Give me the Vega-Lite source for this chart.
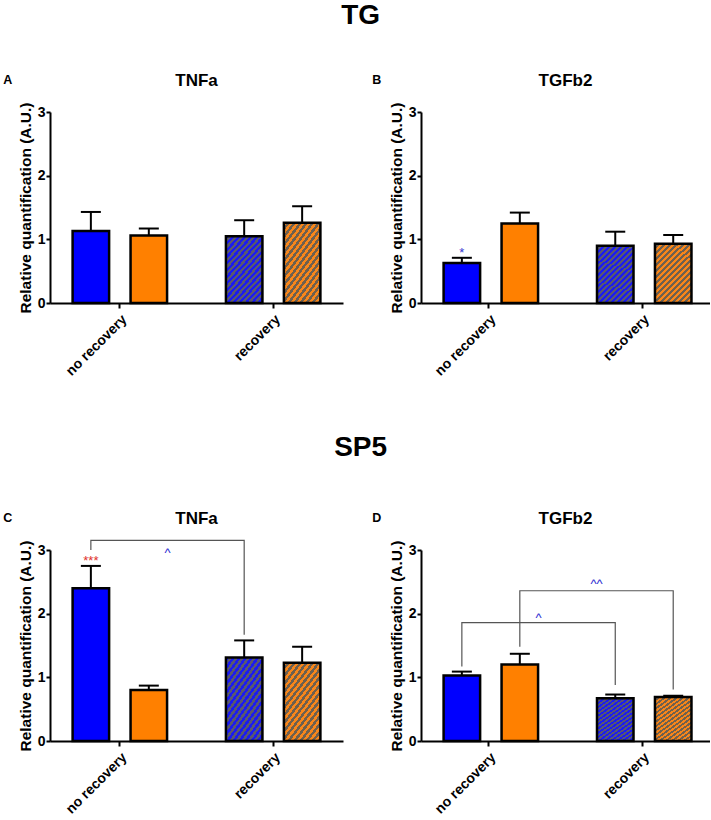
{
"$schema": "https://vega.github.io/schema/vega-lite/v6.json",
"padding": {"left": 3, "top": 2, "right": 0, "bottom": 0},
"background": "white",
"datasets": {
"bars": [
{"panel":"A","condition":"no recovery","series":"S1","value":1.13,"upper":1.43},
{"panel":"A","condition":"no recovery","series":"S2","value":1.06,"upper":1.17},
{"panel":"A","condition":"recovery","series":"S1","value":1.05,"upper":1.30},
{"panel":"A","condition":"recovery","series":"S2","value":1.26,"upper":1.52},
{"panel":"B","condition":"no recovery","series":"S1","value":0.63,"upper":0.71},
{"panel":"B","condition":"no recovery","series":"S2","value":1.25,"upper":1.42},
{"panel":"B","condition":"recovery","series":"S1","value":0.9,"upper":1.12},
{"panel":"B","condition":"recovery","series":"S2","value":0.93,"upper":1.07},
{"panel":"C","condition":"no recovery","series":"S1","value":2.4,"upper":2.75},
{"panel":"C","condition":"no recovery","series":"S2","value":0.8,"upper":0.87},
{"panel":"C","condition":"recovery","series":"S1","value":1.31,"upper":1.58},
{"panel":"C","condition":"recovery","series":"S2","value":1.23,"upper":1.48},
{"panel":"D","condition":"no recovery","series":"S1","value":1.03,"upper":1.09},
{"panel":"D","condition":"no recovery","series":"S2","value":1.2,"upper":1.37},
{"panel":"D","condition":"recovery","series":"S1","value":0.67,"upper":0.73},
{"panel":"D","condition":"recovery","series":"S2","value":0.69,"upper":0.71}
],
"panels": [
{"panel":"A","letter":"A","gene":"TNFa"},
{"panel":"B","letter":"B","gene":"TGFb2"},
{"panel":"C","letter":"C","gene":"TNFa"},
{"panel":"D","letter":"D","gene":"TGFb2"}
],
"stars": [
{"panel":"B","condition":"no recovery","series":"S1","label":"*","y":0.73},
{"panel":"C","condition":"no recovery","series":"S1","label":"***","y":2.76}
],
"carets": [
{"panel":"C","condition":"no recovery","series":"S1","label":"^","y":2.89},
{"panel":"D","condition":"no recovery","series":"S1","label":"^","y":1.87},
{"panel":"D","condition":"no recovery","series":"S2","label":"^^","y":2.40}
],
"brackets": [
{"panel":"C","id":"c1","seq":1,"condition":"no recovery","series":"S1","y":3.0},
{"panel":"C","id":"c1","seq":2,"condition":"no recovery","series":"S1","y":3.15},
{"panel":"C","id":"c1","seq":3,"condition":"recovery","series":"S1","y":3.15},
{"panel":"C","id":"c1","seq":4,"condition":"recovery","series":"S1","y":1.67},
{"panel":"D","id":"d1","seq":1,"condition":"no recovery","series":"S1","y":1.17},
{"panel":"D","id":"d1","seq":2,"condition":"no recovery","series":"S1","y":1.86},
{"panel":"D","id":"d1","seq":3,"condition":"recovery","series":"S1","y":1.86},
{"panel":"D","id":"d1","seq":4,"condition":"recovery","series":"S1","y":0.88},
{"panel":"D","id":"d2","seq":1,"condition":"no recovery","series":"S2","y":1.48},
{"panel":"D","id":"d2","seq":2,"condition":"no recovery","series":"S2","y":2.36},
{"panel":"D","id":"d2","seq":3,"condition":"recovery","series":"S2","y":2.36},
{"panel":"D","id":"d2","seq":4,"condition":"recovery","series":"S2","y":0.81}
]
},
"config": {
"view": {"stroke": null},
"font": "Liberation Sans",
"axis": {"grid": false, "domainColor": "black", "domainWidth": 2, "tickColor": "black", "tickWidth": 2, "labelColor": "black", "labelFont": "Liberation Sans", "labelFontWeight": "bold", "titleFont": "Liberation Sans", "titleFontWeight": "bold", "titleColor": "black"},
"axisX": {"labelAngle": -45, "labelFontSize": 14, "tickSize": 5, "labelPadding": 4},
"axisY": {"labelFontSize": 14, "tickSize": 4, "labelPadding": 1, "titleFontSize": 15.5, "titlePadding": 4},
"title": {"font": "Liberation Sans", "fontWeight": "bold", "color": "black"}
},
"spacing": 55,
"vconcat": [
{
"title": {"text": "TG", "fontSize": 28, "anchor": "middle", "offset": 42, "dx": 4},
"spacing": 29,
"hconcat": [
{
"width": 293, "height": 191,
"layer": [
{"data":{"name":"bars"},"transform":[{"filter":"datum.panel==='A' && datum.condition==='no recovery'"}],
"mark":{"type":"bar","stroke":"black","strokeWidth":2.5},
"encoding":{
"x":{"field":"condition","type":"nominal","title":null,"scale":{"domain":["no recovery","recovery"],"paddingInner":0.089,"paddingOuter":0}},
"xOffset":{"field":"series","type":"nominal","scale":{"domain":["S1","S2"],"paddingInner":0.37,"paddingOuter":0.39}},
"y":{"field":"value","type":"quantitative","title":"Relative quantification (A.U.)","scale":{"domain":[0,3],"nice":false},"axis":{"values":[0,1,2,3],"format":"d"}},
"fill":{"field":"series","type":"nominal","scale":{"domain":["S1","S2"],"range":["#0000ff","#ff8000"]},"legend":null}}},
{"data":{"name":"bars"},"transform":[{"filter":"datum.panel==='A' && datum.condition==='recovery' && datum.series==='S1'"}],
"mark":{"type":"bar","stroke":"black","strokeWidth":2.5,"fill":{"gradient":"linear","x1":0,"y1":0,"x2":0.706,"y2":1.176,"stops":[
{"offset":0,"color":"#1c1cf0"},{"offset":0.03125,"color":"#1c1cf0"},{"offset":0.03125,"color":"#585870"},{"offset":0.0625,"color":"#585870"},
{"offset":0.0625,"color":"#1c1cf0"},{"offset":0.09375,"color":"#1c1cf0"},{"offset":0.09375,"color":"#585870"},{"offset":0.125,"color":"#585870"},
{"offset":0.125,"color":"#1c1cf0"},{"offset":0.15625,"color":"#1c1cf0"},{"offset":0.15625,"color":"#585870"},{"offset":0.1875,"color":"#585870"},
{"offset":0.1875,"color":"#1c1cf0"},{"offset":0.21875,"color":"#1c1cf0"},{"offset":0.21875,"color":"#585870"},{"offset":0.25,"color":"#585870"},
{"offset":0.25,"color":"#1c1cf0"},{"offset":0.28125,"color":"#1c1cf0"},{"offset":0.28125,"color":"#585870"},{"offset":0.3125,"color":"#585870"},
{"offset":0.3125,"color":"#1c1cf0"},{"offset":0.34375,"color":"#1c1cf0"},{"offset":0.34375,"color":"#585870"},{"offset":0.375,"color":"#585870"},
{"offset":0.375,"color":"#1c1cf0"},{"offset":0.40625,"color":"#1c1cf0"},{"offset":0.40625,"color":"#585870"},{"offset":0.4375,"color":"#585870"},
{"offset":0.4375,"color":"#1c1cf0"},{"offset":0.46875,"color":"#1c1cf0"},{"offset":0.46875,"color":"#585870"},{"offset":0.5,"color":"#585870"},
{"offset":0.5,"color":"#1c1cf0"},{"offset":0.53125,"color":"#1c1cf0"},{"offset":0.53125,"color":"#585870"},{"offset":0.5625,"color":"#585870"},
{"offset":0.5625,"color":"#1c1cf0"},{"offset":0.59375,"color":"#1c1cf0"},{"offset":0.59375,"color":"#585870"},{"offset":0.625,"color":"#585870"},
{"offset":0.625,"color":"#1c1cf0"},{"offset":0.65625,"color":"#1c1cf0"},{"offset":0.65625,"color":"#585870"},{"offset":0.6875,"color":"#585870"},
{"offset":0.6875,"color":"#1c1cf0"},{"offset":0.71875,"color":"#1c1cf0"},{"offset":0.71875,"color":"#585870"},{"offset":0.75,"color":"#585870"},
{"offset":0.75,"color":"#1c1cf0"},{"offset":0.78125,"color":"#1c1cf0"},{"offset":0.78125,"color":"#585870"},{"offset":0.8125,"color":"#585870"},
{"offset":0.8125,"color":"#1c1cf0"},{"offset":0.84375,"color":"#1c1cf0"},{"offset":0.84375,"color":"#585870"},{"offset":0.875,"color":"#585870"},
{"offset":0.875,"color":"#1c1cf0"},{"offset":0.90625,"color":"#1c1cf0"},{"offset":0.90625,"color":"#585870"},{"offset":0.9375,"color":"#585870"},
{"offset":0.9375,"color":"#1c1cf0"},{"offset":0.96875,"color":"#1c1cf0"},{"offset":0.96875,"color":"#585870"},{"offset":1,"color":"#585870"}]}},
"encoding":{"x":{"field":"condition","type":"nominal","title":null},"xOffset":{"field":"series","type":"nominal"},"y":{"field":"value","type":"quantitative","title":"Relative quantification (A.U.)"}}},
{"data":{"name":"bars"},"transform":[{"filter":"datum.panel==='A' && datum.condition==='recovery' && datum.series==='S2'"}],
"mark":{"type":"bar","stroke":"black","strokeWidth":2.5,"fill":{"gradient":"linear","x1":0,"y1":0,"x2":0.706,"y2":1.176,"stops":[
{"offset":0,"color":"#f8861a"},{"offset":0.03125,"color":"#f8861a"},{"offset":0.03125,"color":"#6e6050"},{"offset":0.0625,"color":"#6e6050"},
{"offset":0.0625,"color":"#f8861a"},{"offset":0.09375,"color":"#f8861a"},{"offset":0.09375,"color":"#6e6050"},{"offset":0.125,"color":"#6e6050"},
{"offset":0.125,"color":"#f8861a"},{"offset":0.15625,"color":"#f8861a"},{"offset":0.15625,"color":"#6e6050"},{"offset":0.1875,"color":"#6e6050"},
{"offset":0.1875,"color":"#f8861a"},{"offset":0.21875,"color":"#f8861a"},{"offset":0.21875,"color":"#6e6050"},{"offset":0.25,"color":"#6e6050"},
{"offset":0.25,"color":"#f8861a"},{"offset":0.28125,"color":"#f8861a"},{"offset":0.28125,"color":"#6e6050"},{"offset":0.3125,"color":"#6e6050"},
{"offset":0.3125,"color":"#f8861a"},{"offset":0.34375,"color":"#f8861a"},{"offset":0.34375,"color":"#6e6050"},{"offset":0.375,"color":"#6e6050"},
{"offset":0.375,"color":"#f8861a"},{"offset":0.40625,"color":"#f8861a"},{"offset":0.40625,"color":"#6e6050"},{"offset":0.4375,"color":"#6e6050"},
{"offset":0.4375,"color":"#f8861a"},{"offset":0.46875,"color":"#f8861a"},{"offset":0.46875,"color":"#6e6050"},{"offset":0.5,"color":"#6e6050"},
{"offset":0.5,"color":"#f8861a"},{"offset":0.53125,"color":"#f8861a"},{"offset":0.53125,"color":"#6e6050"},{"offset":0.5625,"color":"#6e6050"},
{"offset":0.5625,"color":"#f8861a"},{"offset":0.59375,"color":"#f8861a"},{"offset":0.59375,"color":"#6e6050"},{"offset":0.625,"color":"#6e6050"},
{"offset":0.625,"color":"#f8861a"},{"offset":0.65625,"color":"#f8861a"},{"offset":0.65625,"color":"#6e6050"},{"offset":0.6875,"color":"#6e6050"},
{"offset":0.6875,"color":"#f8861a"},{"offset":0.71875,"color":"#f8861a"},{"offset":0.71875,"color":"#6e6050"},{"offset":0.75,"color":"#6e6050"},
{"offset":0.75,"color":"#f8861a"},{"offset":0.78125,"color":"#f8861a"},{"offset":0.78125,"color":"#6e6050"},{"offset":0.8125,"color":"#6e6050"},
{"offset":0.8125,"color":"#f8861a"},{"offset":0.84375,"color":"#f8861a"},{"offset":0.84375,"color":"#6e6050"},{"offset":0.875,"color":"#6e6050"},
{"offset":0.875,"color":"#f8861a"},{"offset":0.90625,"color":"#f8861a"},{"offset":0.90625,"color":"#6e6050"},{"offset":0.9375,"color":"#6e6050"},
{"offset":0.9375,"color":"#f8861a"},{"offset":0.96875,"color":"#f8861a"},{"offset":0.96875,"color":"#6e6050"},{"offset":1,"color":"#6e6050"}]}},
"encoding":{"x":{"field":"condition","type":"nominal","title":null},"xOffset":{"field":"series","type":"nominal"},"y":{"field":"value","type":"quantitative","title":"Relative quantification (A.U.)"}}},
{"data":{"name":"bars"},"transform":[{"filter":"datum.panel==='A'"}],
"mark":{"type":"rule","strokeWidth":2,"color":"black"},
"encoding":{"x":{"field":"condition","type":"nominal","title":null},"xOffset":{"field":"series","type":"nominal"},"y":{"field":"value","type":"quantitative","title":"Relative quantification (A.U.)"},"y2":{"field":"upper"}}},
{"data":{"name":"bars"},"transform":[{"filter":"datum.panel==='A'"}],
"mark":{"type":"tick","size":20,"thickness":2,"color":"black","opacity":1},
"encoding":{"x":{"field":"condition","type":"nominal","title":null},"xOffset":{"field":"series","type":"nominal"},"y":{"field":"upper","type":"quantitative","title":"Relative quantification (A.U.)"}}},
{"data":{"name":"panels"},"transform":[{"filter":"datum.panel==='A'"}],
"mark":{"type":"text","fontSize":12.5,"fontWeight":"bold","dx":-112,"dy":-32,"baseline":"middle","color":"black"},
"encoding":{"text":{"field":"letter"},"x":{"datum":"no recovery","type":"nominal","title":null},"y":{"datum":3,"type":"quantitative","title":"Relative quantification (A.U.)"}}},
{"data":{"name":"panels"},"transform":[{"filter":"datum.panel==='A'"}],
"mark":{"type":"text","fontSize":17,"fontWeight":"bold","dx":76.7,"dy":-31,"baseline":"middle","color":"black"},
"encoding":{"text":{"field":"gene"},"x":{"datum":"no recovery","type":"nominal","title":null},"y":{"datum":3,"type":"quantitative","title":"Relative quantification (A.U.)"}}}
]
},
{
"width": 289, "height": 191,
"layer": [
{"data":{"name":"bars"},"transform":[{"filter":"datum.panel==='B' && datum.condition==='no recovery'"}],
"mark":{"type":"bar","stroke":"black","strokeWidth":2.5},
"encoding":{
"x":{"field":"condition","type":"nominal","title":null,"scale":{"domain":["no recovery","recovery"],"paddingInner":0.116,"paddingOuter":0}},
"xOffset":{"field":"series","type":"nominal","scale":{"domain":["S1","S2"],"paddingInner":0.36,"paddingOuter":0.37}},
"y":{"field":"value","type":"quantitative","title":"Relative quantification (A.U.)","scale":{"domain":[0,3],"nice":false},"axis":{"values":[0,1,2,3],"format":"d"}},
"fill":{"field":"series","type":"nominal","scale":{"domain":["S1","S2"],"range":["#0000ff","#ff8000"]},"legend":null}}},
{"data":{"name":"bars"},"transform":[{"filter":"datum.panel==='B' && datum.condition==='recovery' && datum.series==='S1'"}],
"mark":{"type":"bar","stroke":"black","strokeWidth":2.5,"fill":{"gradient":"linear","x1":0,"y1":0,"x2":0.706,"y2":1.176,"stops":[
{"offset":0,"color":"#1c1cf0"},{"offset":0.03125,"color":"#1c1cf0"},{"offset":0.03125,"color":"#585870"},{"offset":0.0625,"color":"#585870"},
{"offset":0.0625,"color":"#1c1cf0"},{"offset":0.09375,"color":"#1c1cf0"},{"offset":0.09375,"color":"#585870"},{"offset":0.125,"color":"#585870"},
{"offset":0.125,"color":"#1c1cf0"},{"offset":0.15625,"color":"#1c1cf0"},{"offset":0.15625,"color":"#585870"},{"offset":0.1875,"color":"#585870"},
{"offset":0.1875,"color":"#1c1cf0"},{"offset":0.21875,"color":"#1c1cf0"},{"offset":0.21875,"color":"#585870"},{"offset":0.25,"color":"#585870"},
{"offset":0.25,"color":"#1c1cf0"},{"offset":0.28125,"color":"#1c1cf0"},{"offset":0.28125,"color":"#585870"},{"offset":0.3125,"color":"#585870"},
{"offset":0.3125,"color":"#1c1cf0"},{"offset":0.34375,"color":"#1c1cf0"},{"offset":0.34375,"color":"#585870"},{"offset":0.375,"color":"#585870"},
{"offset":0.375,"color":"#1c1cf0"},{"offset":0.40625,"color":"#1c1cf0"},{"offset":0.40625,"color":"#585870"},{"offset":0.4375,"color":"#585870"},
{"offset":0.4375,"color":"#1c1cf0"},{"offset":0.46875,"color":"#1c1cf0"},{"offset":0.46875,"color":"#585870"},{"offset":0.5,"color":"#585870"},
{"offset":0.5,"color":"#1c1cf0"},{"offset":0.53125,"color":"#1c1cf0"},{"offset":0.53125,"color":"#585870"},{"offset":0.5625,"color":"#585870"},
{"offset":0.5625,"color":"#1c1cf0"},{"offset":0.59375,"color":"#1c1cf0"},{"offset":0.59375,"color":"#585870"},{"offset":0.625,"color":"#585870"},
{"offset":0.625,"color":"#1c1cf0"},{"offset":0.65625,"color":"#1c1cf0"},{"offset":0.65625,"color":"#585870"},{"offset":0.6875,"color":"#585870"},
{"offset":0.6875,"color":"#1c1cf0"},{"offset":0.71875,"color":"#1c1cf0"},{"offset":0.71875,"color":"#585870"},{"offset":0.75,"color":"#585870"},
{"offset":0.75,"color":"#1c1cf0"},{"offset":0.78125,"color":"#1c1cf0"},{"offset":0.78125,"color":"#585870"},{"offset":0.8125,"color":"#585870"},
{"offset":0.8125,"color":"#1c1cf0"},{"offset":0.84375,"color":"#1c1cf0"},{"offset":0.84375,"color":"#585870"},{"offset":0.875,"color":"#585870"},
{"offset":0.875,"color":"#1c1cf0"},{"offset":0.90625,"color":"#1c1cf0"},{"offset":0.90625,"color":"#585870"},{"offset":0.9375,"color":"#585870"},
{"offset":0.9375,"color":"#1c1cf0"},{"offset":0.96875,"color":"#1c1cf0"},{"offset":0.96875,"color":"#585870"},{"offset":1,"color":"#585870"}]}},
"encoding":{"x":{"field":"condition","type":"nominal","title":null},"xOffset":{"field":"series","type":"nominal"},"y":{"field":"value","type":"quantitative","title":"Relative quantification (A.U.)"}}},
{"data":{"name":"bars"},"transform":[{"filter":"datum.panel==='B' && datum.condition==='recovery' && datum.series==='S2'"}],
"mark":{"type":"bar","stroke":"black","strokeWidth":2.5,"fill":{"gradient":"linear","x1":0,"y1":0,"x2":0.706,"y2":1.176,"stops":[
{"offset":0,"color":"#f8861a"},{"offset":0.03125,"color":"#f8861a"},{"offset":0.03125,"color":"#6e6050"},{"offset":0.0625,"color":"#6e6050"},
{"offset":0.0625,"color":"#f8861a"},{"offset":0.09375,"color":"#f8861a"},{"offset":0.09375,"color":"#6e6050"},{"offset":0.125,"color":"#6e6050"},
{"offset":0.125,"color":"#f8861a"},{"offset":0.15625,"color":"#f8861a"},{"offset":0.15625,"color":"#6e6050"},{"offset":0.1875,"color":"#6e6050"},
{"offset":0.1875,"color":"#f8861a"},{"offset":0.21875,"color":"#f8861a"},{"offset":0.21875,"color":"#6e6050"},{"offset":0.25,"color":"#6e6050"},
{"offset":0.25,"color":"#f8861a"},{"offset":0.28125,"color":"#f8861a"},{"offset":0.28125,"color":"#6e6050"},{"offset":0.3125,"color":"#6e6050"},
{"offset":0.3125,"color":"#f8861a"},{"offset":0.34375,"color":"#f8861a"},{"offset":0.34375,"color":"#6e6050"},{"offset":0.375,"color":"#6e6050"},
{"offset":0.375,"color":"#f8861a"},{"offset":0.40625,"color":"#f8861a"},{"offset":0.40625,"color":"#6e6050"},{"offset":0.4375,"color":"#6e6050"},
{"offset":0.4375,"color":"#f8861a"},{"offset":0.46875,"color":"#f8861a"},{"offset":0.46875,"color":"#6e6050"},{"offset":0.5,"color":"#6e6050"},
{"offset":0.5,"color":"#f8861a"},{"offset":0.53125,"color":"#f8861a"},{"offset":0.53125,"color":"#6e6050"},{"offset":0.5625,"color":"#6e6050"},
{"offset":0.5625,"color":"#f8861a"},{"offset":0.59375,"color":"#f8861a"},{"offset":0.59375,"color":"#6e6050"},{"offset":0.625,"color":"#6e6050"},
{"offset":0.625,"color":"#f8861a"},{"offset":0.65625,"color":"#f8861a"},{"offset":0.65625,"color":"#6e6050"},{"offset":0.6875,"color":"#6e6050"},
{"offset":0.6875,"color":"#f8861a"},{"offset":0.71875,"color":"#f8861a"},{"offset":0.71875,"color":"#6e6050"},{"offset":0.75,"color":"#6e6050"},
{"offset":0.75,"color":"#f8861a"},{"offset":0.78125,"color":"#f8861a"},{"offset":0.78125,"color":"#6e6050"},{"offset":0.8125,"color":"#6e6050"},
{"offset":0.8125,"color":"#f8861a"},{"offset":0.84375,"color":"#f8861a"},{"offset":0.84375,"color":"#6e6050"},{"offset":0.875,"color":"#6e6050"},
{"offset":0.875,"color":"#f8861a"},{"offset":0.90625,"color":"#f8861a"},{"offset":0.90625,"color":"#6e6050"},{"offset":0.9375,"color":"#6e6050"},
{"offset":0.9375,"color":"#f8861a"},{"offset":0.96875,"color":"#f8861a"},{"offset":0.96875,"color":"#6e6050"},{"offset":1,"color":"#6e6050"}]}},
"encoding":{"x":{"field":"condition","type":"nominal","title":null},"xOffset":{"field":"series","type":"nominal"},"y":{"field":"value","type":"quantitative","title":"Relative quantification (A.U.)"}}},
{"data":{"name":"bars"},"transform":[{"filter":"datum.panel==='B'"}],
"mark":{"type":"rule","strokeWidth":2,"color":"black"},
"encoding":{"x":{"field":"condition","type":"nominal","title":null},"xOffset":{"field":"series","type":"nominal"},"y":{"field":"value","type":"quantitative","title":"Relative quantification (A.U.)"},"y2":{"field":"upper"}}},
{"data":{"name":"bars"},"transform":[{"filter":"datum.panel==='B'"}],
"mark":{"type":"tick","size":20,"thickness":2,"color":"black","opacity":1},
"encoding":{"x":{"field":"condition","type":"nominal","title":null},"xOffset":{"field":"series","type":"nominal"},"y":{"field":"upper","type":"quantitative","title":"Relative quantification (A.U.)"}}},
{"data":{"name":"stars"},"transform":[{"filter":"datum.panel==='B'"}],
"mark":{"type":"text","fontSize":13,"color":"#3535d0","baseline":"alphabetic"},
"encoding":{"text":{"field":"label"},"x":{"field":"condition","type":"nominal","title":null},"xOffset":{"field":"series","type":"nominal"},"y":{"field":"y","type":"quantitative","title":"Relative quantification (A.U.)"}}},
{"data":{"name":"panels"},"transform":[{"filter":"datum.panel==='B'"}],
"mark":{"type":"text","fontSize":12.5,"fontWeight":"bold","dx":-112,"dy":-32,"baseline":"middle","color":"black"},
"encoding":{"text":{"field":"letter"},"x":{"datum":"no recovery","type":"nominal","title":null},"y":{"datum":3,"type":"quantitative","title":"Relative quantification (A.U.)"}}},
{"data":{"name":"panels"},"transform":[{"filter":"datum.panel==='B'"}],
"mark":{"type":"text","fontSize":17,"fontWeight":"bold","dx":76.7,"dy":-31,"baseline":"middle","color":"black"},
"encoding":{"text":{"field":"gene"},"x":{"datum":"no recovery","type":"nominal","title":null},"y":{"datum":3,"type":"quantitative","title":"Relative quantification (A.U.)"}}}
]
}
]
},
{
"title": {"text": "SP5", "fontSize": 28, "anchor": "middle", "offset": 48, "dx": 4},
"spacing": 29,
"hconcat": [
{
"width": 293, "height": 191,
"layer": [
{"data":{"name":"bars"},"transform":[{"filter":"datum.panel==='C' && datum.condition==='no recovery'"}],
"mark":{"type":"bar","stroke":"black","strokeWidth":2.5},
"encoding":{
"x":{"field":"condition","type":"nominal","title":null,"scale":{"domain":["no recovery","recovery"],"paddingInner":0.089,"paddingOuter":0}},
"xOffset":{"field":"series","type":"nominal","scale":{"domain":["S1","S2"],"paddingInner":0.37,"paddingOuter":0.39}},
"y":{"field":"value","type":"quantitative","title":"Relative quantification (A.U.)","scale":{"domain":[0,3],"nice":false},"axis":{"values":[0,1,2,3],"format":"d"}},
"fill":{"field":"series","type":"nominal","scale":{"domain":["S1","S2"],"range":["#0000ff","#ff8000"]},"legend":null}}},
{"data":{"name":"bars"},"transform":[{"filter":"datum.panel==='C' && datum.condition==='recovery' && datum.series==='S1'"}],
"mark":{"type":"bar","stroke":"black","strokeWidth":2.5,"fill":{"gradient":"linear","x1":0,"y1":0,"x2":0.706,"y2":1.176,"stops":[
{"offset":0,"color":"#1c1cf0"},{"offset":0.03125,"color":"#1c1cf0"},{"offset":0.03125,"color":"#585870"},{"offset":0.0625,"color":"#585870"},
{"offset":0.0625,"color":"#1c1cf0"},{"offset":0.09375,"color":"#1c1cf0"},{"offset":0.09375,"color":"#585870"},{"offset":0.125,"color":"#585870"},
{"offset":0.125,"color":"#1c1cf0"},{"offset":0.15625,"color":"#1c1cf0"},{"offset":0.15625,"color":"#585870"},{"offset":0.1875,"color":"#585870"},
{"offset":0.1875,"color":"#1c1cf0"},{"offset":0.21875,"color":"#1c1cf0"},{"offset":0.21875,"color":"#585870"},{"offset":0.25,"color":"#585870"},
{"offset":0.25,"color":"#1c1cf0"},{"offset":0.28125,"color":"#1c1cf0"},{"offset":0.28125,"color":"#585870"},{"offset":0.3125,"color":"#585870"},
{"offset":0.3125,"color":"#1c1cf0"},{"offset":0.34375,"color":"#1c1cf0"},{"offset":0.34375,"color":"#585870"},{"offset":0.375,"color":"#585870"},
{"offset":0.375,"color":"#1c1cf0"},{"offset":0.40625,"color":"#1c1cf0"},{"offset":0.40625,"color":"#585870"},{"offset":0.4375,"color":"#585870"},
{"offset":0.4375,"color":"#1c1cf0"},{"offset":0.46875,"color":"#1c1cf0"},{"offset":0.46875,"color":"#585870"},{"offset":0.5,"color":"#585870"},
{"offset":0.5,"color":"#1c1cf0"},{"offset":0.53125,"color":"#1c1cf0"},{"offset":0.53125,"color":"#585870"},{"offset":0.5625,"color":"#585870"},
{"offset":0.5625,"color":"#1c1cf0"},{"offset":0.59375,"color":"#1c1cf0"},{"offset":0.59375,"color":"#585870"},{"offset":0.625,"color":"#585870"},
{"offset":0.625,"color":"#1c1cf0"},{"offset":0.65625,"color":"#1c1cf0"},{"offset":0.65625,"color":"#585870"},{"offset":0.6875,"color":"#585870"},
{"offset":0.6875,"color":"#1c1cf0"},{"offset":0.71875,"color":"#1c1cf0"},{"offset":0.71875,"color":"#585870"},{"offset":0.75,"color":"#585870"},
{"offset":0.75,"color":"#1c1cf0"},{"offset":0.78125,"color":"#1c1cf0"},{"offset":0.78125,"color":"#585870"},{"offset":0.8125,"color":"#585870"},
{"offset":0.8125,"color":"#1c1cf0"},{"offset":0.84375,"color":"#1c1cf0"},{"offset":0.84375,"color":"#585870"},{"offset":0.875,"color":"#585870"},
{"offset":0.875,"color":"#1c1cf0"},{"offset":0.90625,"color":"#1c1cf0"},{"offset":0.90625,"color":"#585870"},{"offset":0.9375,"color":"#585870"},
{"offset":0.9375,"color":"#1c1cf0"},{"offset":0.96875,"color":"#1c1cf0"},{"offset":0.96875,"color":"#585870"},{"offset":1,"color":"#585870"}]}},
"encoding":{"x":{"field":"condition","type":"nominal","title":null},"xOffset":{"field":"series","type":"nominal"},"y":{"field":"value","type":"quantitative","title":"Relative quantification (A.U.)"}}},
{"data":{"name":"bars"},"transform":[{"filter":"datum.panel==='C' && datum.condition==='recovery' && datum.series==='S2'"}],
"mark":{"type":"bar","stroke":"black","strokeWidth":2.5,"fill":{"gradient":"linear","x1":0,"y1":0,"x2":0.706,"y2":1.176,"stops":[
{"offset":0,"color":"#f8861a"},{"offset":0.03125,"color":"#f8861a"},{"offset":0.03125,"color":"#6e6050"},{"offset":0.0625,"color":"#6e6050"},
{"offset":0.0625,"color":"#f8861a"},{"offset":0.09375,"color":"#f8861a"},{"offset":0.09375,"color":"#6e6050"},{"offset":0.125,"color":"#6e6050"},
{"offset":0.125,"color":"#f8861a"},{"offset":0.15625,"color":"#f8861a"},{"offset":0.15625,"color":"#6e6050"},{"offset":0.1875,"color":"#6e6050"},
{"offset":0.1875,"color":"#f8861a"},{"offset":0.21875,"color":"#f8861a"},{"offset":0.21875,"color":"#6e6050"},{"offset":0.25,"color":"#6e6050"},
{"offset":0.25,"color":"#f8861a"},{"offset":0.28125,"color":"#f8861a"},{"offset":0.28125,"color":"#6e6050"},{"offset":0.3125,"color":"#6e6050"},
{"offset":0.3125,"color":"#f8861a"},{"offset":0.34375,"color":"#f8861a"},{"offset":0.34375,"color":"#6e6050"},{"offset":0.375,"color":"#6e6050"},
{"offset":0.375,"color":"#f8861a"},{"offset":0.40625,"color":"#f8861a"},{"offset":0.40625,"color":"#6e6050"},{"offset":0.4375,"color":"#6e6050"},
{"offset":0.4375,"color":"#f8861a"},{"offset":0.46875,"color":"#f8861a"},{"offset":0.46875,"color":"#6e6050"},{"offset":0.5,"color":"#6e6050"},
{"offset":0.5,"color":"#f8861a"},{"offset":0.53125,"color":"#f8861a"},{"offset":0.53125,"color":"#6e6050"},{"offset":0.5625,"color":"#6e6050"},
{"offset":0.5625,"color":"#f8861a"},{"offset":0.59375,"color":"#f8861a"},{"offset":0.59375,"color":"#6e6050"},{"offset":0.625,"color":"#6e6050"},
{"offset":0.625,"color":"#f8861a"},{"offset":0.65625,"color":"#f8861a"},{"offset":0.65625,"color":"#6e6050"},{"offset":0.6875,"color":"#6e6050"},
{"offset":0.6875,"color":"#f8861a"},{"offset":0.71875,"color":"#f8861a"},{"offset":0.71875,"color":"#6e6050"},{"offset":0.75,"color":"#6e6050"},
{"offset":0.75,"color":"#f8861a"},{"offset":0.78125,"color":"#f8861a"},{"offset":0.78125,"color":"#6e6050"},{"offset":0.8125,"color":"#6e6050"},
{"offset":0.8125,"color":"#f8861a"},{"offset":0.84375,"color":"#f8861a"},{"offset":0.84375,"color":"#6e6050"},{"offset":0.875,"color":"#6e6050"},
{"offset":0.875,"color":"#f8861a"},{"offset":0.90625,"color":"#f8861a"},{"offset":0.90625,"color":"#6e6050"},{"offset":0.9375,"color":"#6e6050"},
{"offset":0.9375,"color":"#f8861a"},{"offset":0.96875,"color":"#f8861a"},{"offset":0.96875,"color":"#6e6050"},{"offset":1,"color":"#6e6050"}]}},
"encoding":{"x":{"field":"condition","type":"nominal","title":null},"xOffset":{"field":"series","type":"nominal"},"y":{"field":"value","type":"quantitative","title":"Relative quantification (A.U.)"}}},
{"data":{"name":"bars"},"transform":[{"filter":"datum.panel==='C'"}],
"mark":{"type":"rule","strokeWidth":2,"color":"black"},
"encoding":{"x":{"field":"condition","type":"nominal","title":null},"xOffset":{"field":"series","type":"nominal"},"y":{"field":"value","type":"quantitative","title":"Relative quantification (A.U.)"},"y2":{"field":"upper"}}},
{"data":{"name":"bars"},"transform":[{"filter":"datum.panel==='C'"}],
"mark":{"type":"tick","size":20,"thickness":2,"color":"black","opacity":1},
"encoding":{"x":{"field":"condition","type":"nominal","title":null},"xOffset":{"field":"series","type":"nominal"},"y":{"field":"upper","type":"quantitative","title":"Relative quantification (A.U.)"}}},
{"data":{"name":"brackets"},"transform":[{"filter":"datum.panel==='C'"}],
"mark":{"type":"line","color":"#555555","strokeWidth":1.2},
"encoding":{"x":{"field":"condition","type":"nominal","title":null},"xOffset":{"field":"series","type":"nominal"},"y":{"field":"y","type":"quantitative","title":"Relative quantification (A.U.)"},"order":{"field":"seq","type":"quantitative"},"detail":{"field":"id","type":"nominal"}}},
{"data":{"name":"stars"},"transform":[{"filter":"datum.panel==='C'"}],
"mark":{"type":"text","fontSize":13,"color":"#e0302a","baseline":"alphabetic"},
"encoding":{"text":{"field":"label"},"x":{"field":"condition","type":"nominal","title":null},"xOffset":{"field":"series","type":"nominal"},"y":{"field":"y","type":"quantitative","title":"Relative quantification (A.U.)"}}},
{"data":{"name":"carets"},"transform":[{"filter":"datum.panel==='C'"}],
"mark":{"type":"text","fontSize":13,"color":"#2a2ad0","baseline":"alphabetic","dx":76.7},
"encoding":{"text":{"field":"label"},"x":{"field":"condition","type":"nominal","title":null},"xOffset":{"field":"series","type":"nominal"},"y":{"field":"y","type":"quantitative","title":"Relative quantification (A.U.)"}}},
{"data":{"name":"panels"},"transform":[{"filter":"datum.panel==='C'"}],
"mark":{"type":"text","fontSize":12.5,"fontWeight":"bold","dx":-112,"dy":-32,"baseline":"middle","color":"black"},
"encoding":{"text":{"field":"letter"},"x":{"datum":"no recovery","type":"nominal","title":null},"y":{"datum":3,"type":"quantitative","title":"Relative quantification (A.U.)"}}},
{"data":{"name":"panels"},"transform":[{"filter":"datum.panel==='C'"}],
"mark":{"type":"text","fontSize":17,"fontWeight":"bold","dx":76.7,"dy":-31,"baseline":"middle","color":"black"},
"encoding":{"text":{"field":"gene"},"x":{"datum":"no recovery","type":"nominal","title":null},"y":{"datum":3,"type":"quantitative","title":"Relative quantification (A.U.)"}}}
]
},
{
"width": 289, "height": 191,
"layer": [
{"data":{"name":"bars"},"transform":[{"filter":"datum.panel==='D' && datum.condition==='no recovery'"}],
"mark":{"type":"bar","stroke":"black","strokeWidth":2.5},
"encoding":{
"x":{"field":"condition","type":"nominal","title":null,"scale":{"domain":["no recovery","recovery"],"paddingInner":0.116,"paddingOuter":0}},
"xOffset":{"field":"series","type":"nominal","scale":{"domain":["S1","S2"],"paddingInner":0.36,"paddingOuter":0.37}},
"y":{"field":"value","type":"quantitative","title":"Relative quantification (A.U.)","scale":{"domain":[0,3],"nice":false},"axis":{"values":[0,1,2,3],"format":"d"}},
"fill":{"field":"series","type":"nominal","scale":{"domain":["S1","S2"],"range":["#0000ff","#ff8000"]},"legend":null}}},
{"data":{"name":"bars"},"transform":[{"filter":"datum.panel==='D' && datum.condition==='recovery' && datum.series==='S1'"}],
"mark":{"type":"bar","stroke":"black","strokeWidth":2.5,"fill":{"gradient":"linear","x1":0,"y1":0,"x2":0.706,"y2":1.176,"stops":[
{"offset":0,"color":"#1c1cf0"},{"offset":0.03125,"color":"#1c1cf0"},{"offset":0.03125,"color":"#585870"},{"offset":0.0625,"color":"#585870"},
{"offset":0.0625,"color":"#1c1cf0"},{"offset":0.09375,"color":"#1c1cf0"},{"offset":0.09375,"color":"#585870"},{"offset":0.125,"color":"#585870"},
{"offset":0.125,"color":"#1c1cf0"},{"offset":0.15625,"color":"#1c1cf0"},{"offset":0.15625,"color":"#585870"},{"offset":0.1875,"color":"#585870"},
{"offset":0.1875,"color":"#1c1cf0"},{"offset":0.21875,"color":"#1c1cf0"},{"offset":0.21875,"color":"#585870"},{"offset":0.25,"color":"#585870"},
{"offset":0.25,"color":"#1c1cf0"},{"offset":0.28125,"color":"#1c1cf0"},{"offset":0.28125,"color":"#585870"},{"offset":0.3125,"color":"#585870"},
{"offset":0.3125,"color":"#1c1cf0"},{"offset":0.34375,"color":"#1c1cf0"},{"offset":0.34375,"color":"#585870"},{"offset":0.375,"color":"#585870"},
{"offset":0.375,"color":"#1c1cf0"},{"offset":0.40625,"color":"#1c1cf0"},{"offset":0.40625,"color":"#585870"},{"offset":0.4375,"color":"#585870"},
{"offset":0.4375,"color":"#1c1cf0"},{"offset":0.46875,"color":"#1c1cf0"},{"offset":0.46875,"color":"#585870"},{"offset":0.5,"color":"#585870"},
{"offset":0.5,"color":"#1c1cf0"},{"offset":0.53125,"color":"#1c1cf0"},{"offset":0.53125,"color":"#585870"},{"offset":0.5625,"color":"#585870"},
{"offset":0.5625,"color":"#1c1cf0"},{"offset":0.59375,"color":"#1c1cf0"},{"offset":0.59375,"color":"#585870"},{"offset":0.625,"color":"#585870"},
{"offset":0.625,"color":"#1c1cf0"},{"offset":0.65625,"color":"#1c1cf0"},{"offset":0.65625,"color":"#585870"},{"offset":0.6875,"color":"#585870"},
{"offset":0.6875,"color":"#1c1cf0"},{"offset":0.71875,"color":"#1c1cf0"},{"offset":0.71875,"color":"#585870"},{"offset":0.75,"color":"#585870"},
{"offset":0.75,"color":"#1c1cf0"},{"offset":0.78125,"color":"#1c1cf0"},{"offset":0.78125,"color":"#585870"},{"offset":0.8125,"color":"#585870"},
{"offset":0.8125,"color":"#1c1cf0"},{"offset":0.84375,"color":"#1c1cf0"},{"offset":0.84375,"color":"#585870"},{"offset":0.875,"color":"#585870"},
{"offset":0.875,"color":"#1c1cf0"},{"offset":0.90625,"color":"#1c1cf0"},{"offset":0.90625,"color":"#585870"},{"offset":0.9375,"color":"#585870"},
{"offset":0.9375,"color":"#1c1cf0"},{"offset":0.96875,"color":"#1c1cf0"},{"offset":0.96875,"color":"#585870"},{"offset":1,"color":"#585870"}]}},
"encoding":{"x":{"field":"condition","type":"nominal","title":null},"xOffset":{"field":"series","type":"nominal"},"y":{"field":"value","type":"quantitative","title":"Relative quantification (A.U.)"}}},
{"data":{"name":"bars"},"transform":[{"filter":"datum.panel==='D' && datum.condition==='recovery' && datum.series==='S2'"}],
"mark":{"type":"bar","stroke":"black","strokeWidth":2.5,"fill":{"gradient":"linear","x1":0,"y1":0,"x2":0.706,"y2":1.176,"stops":[
{"offset":0,"color":"#f8861a"},{"offset":0.03125,"color":"#f8861a"},{"offset":0.03125,"color":"#6e6050"},{"offset":0.0625,"color":"#6e6050"},
{"offset":0.0625,"color":"#f8861a"},{"offset":0.09375,"color":"#f8861a"},{"offset":0.09375,"color":"#6e6050"},{"offset":0.125,"color":"#6e6050"},
{"offset":0.125,"color":"#f8861a"},{"offset":0.15625,"color":"#f8861a"},{"offset":0.15625,"color":"#6e6050"},{"offset":0.1875,"color":"#6e6050"},
{"offset":0.1875,"color":"#f8861a"},{"offset":0.21875,"color":"#f8861a"},{"offset":0.21875,"color":"#6e6050"},{"offset":0.25,"color":"#6e6050"},
{"offset":0.25,"color":"#f8861a"},{"offset":0.28125,"color":"#f8861a"},{"offset":0.28125,"color":"#6e6050"},{"offset":0.3125,"color":"#6e6050"},
{"offset":0.3125,"color":"#f8861a"},{"offset":0.34375,"color":"#f8861a"},{"offset":0.34375,"color":"#6e6050"},{"offset":0.375,"color":"#6e6050"},
{"offset":0.375,"color":"#f8861a"},{"offset":0.40625,"color":"#f8861a"},{"offset":0.40625,"color":"#6e6050"},{"offset":0.4375,"color":"#6e6050"},
{"offset":0.4375,"color":"#f8861a"},{"offset":0.46875,"color":"#f8861a"},{"offset":0.46875,"color":"#6e6050"},{"offset":0.5,"color":"#6e6050"},
{"offset":0.5,"color":"#f8861a"},{"offset":0.53125,"color":"#f8861a"},{"offset":0.53125,"color":"#6e6050"},{"offset":0.5625,"color":"#6e6050"},
{"offset":0.5625,"color":"#f8861a"},{"offset":0.59375,"color":"#f8861a"},{"offset":0.59375,"color":"#6e6050"},{"offset":0.625,"color":"#6e6050"},
{"offset":0.625,"color":"#f8861a"},{"offset":0.65625,"color":"#f8861a"},{"offset":0.65625,"color":"#6e6050"},{"offset":0.6875,"color":"#6e6050"},
{"offset":0.6875,"color":"#f8861a"},{"offset":0.71875,"color":"#f8861a"},{"offset":0.71875,"color":"#6e6050"},{"offset":0.75,"color":"#6e6050"},
{"offset":0.75,"color":"#f8861a"},{"offset":0.78125,"color":"#f8861a"},{"offset":0.78125,"color":"#6e6050"},{"offset":0.8125,"color":"#6e6050"},
{"offset":0.8125,"color":"#f8861a"},{"offset":0.84375,"color":"#f8861a"},{"offset":0.84375,"color":"#6e6050"},{"offset":0.875,"color":"#6e6050"},
{"offset":0.875,"color":"#f8861a"},{"offset":0.90625,"color":"#f8861a"},{"offset":0.90625,"color":"#6e6050"},{"offset":0.9375,"color":"#6e6050"},
{"offset":0.9375,"color":"#f8861a"},{"offset":0.96875,"color":"#f8861a"},{"offset":0.96875,"color":"#6e6050"},{"offset":1,"color":"#6e6050"}]}},
"encoding":{"x":{"field":"condition","type":"nominal","title":null},"xOffset":{"field":"series","type":"nominal"},"y":{"field":"value","type":"quantitative","title":"Relative quantification (A.U.)"}}},
{"data":{"name":"bars"},"transform":[{"filter":"datum.panel==='D'"}],
"mark":{"type":"rule","strokeWidth":2,"color":"black"},
"encoding":{"x":{"field":"condition","type":"nominal","title":null},"xOffset":{"field":"series","type":"nominal"},"y":{"field":"value","type":"quantitative","title":"Relative quantification (A.U.)"},"y2":{"field":"upper"}}},
{"data":{"name":"bars"},"transform":[{"filter":"datum.panel==='D'"}],
"mark":{"type":"tick","size":20,"thickness":2,"color":"black","opacity":1},
"encoding":{"x":{"field":"condition","type":"nominal","title":null},"xOffset":{"field":"series","type":"nominal"},"y":{"field":"upper","type":"quantitative","title":"Relative quantification (A.U.)"}}},
{"data":{"name":"brackets"},"transform":[{"filter":"datum.panel==='D'"}],
"mark":{"type":"line","color":"#555555","strokeWidth":1.2},
"encoding":{"x":{"field":"condition","type":"nominal","title":null},"xOffset":{"field":"series","type":"nominal"},"y":{"field":"y","type":"quantitative","title":"Relative quantification (A.U.)"},"order":{"field":"seq","type":"quantitative"},"detail":{"field":"id","type":"nominal"}}},
{"data":{"name":"carets"},"transform":[{"filter":"datum.panel==='D'"}],
"mark":{"type":"text","fontSize":13,"color":"#2a2ad0","baseline":"alphabetic","dx":76.7},
"encoding":{"text":{"field":"label"},"x":{"field":"condition","type":"nominal","title":null},"xOffset":{"field":"series","type":"nominal"},"y":{"field":"y","type":"quantitative","title":"Relative quantification (A.U.)"}}},
{"data":{"name":"panels"},"transform":[{"filter":"datum.panel==='D'"}],
"mark":{"type":"text","fontSize":12.5,"fontWeight":"bold","dx":-112,"dy":-32,"baseline":"middle","color":"black"},
"encoding":{"text":{"field":"letter"},"x":{"datum":"no recovery","type":"nominal","title":null},"y":{"datum":3,"type":"quantitative","title":"Relative quantification (A.U.)"}}},
{"data":{"name":"panels"},"transform":[{"filter":"datum.panel==='D'"}],
"mark":{"type":"text","fontSize":17,"fontWeight":"bold","dx":76.7,"dy":-31,"baseline":"middle","color":"black"},
"encoding":{"text":{"field":"gene"},"x":{"datum":"no recovery","type":"nominal","title":null},"y":{"datum":3,"type":"quantitative","title":"Relative quantification (A.U.)"}}}
]
}
]
}
]
}
